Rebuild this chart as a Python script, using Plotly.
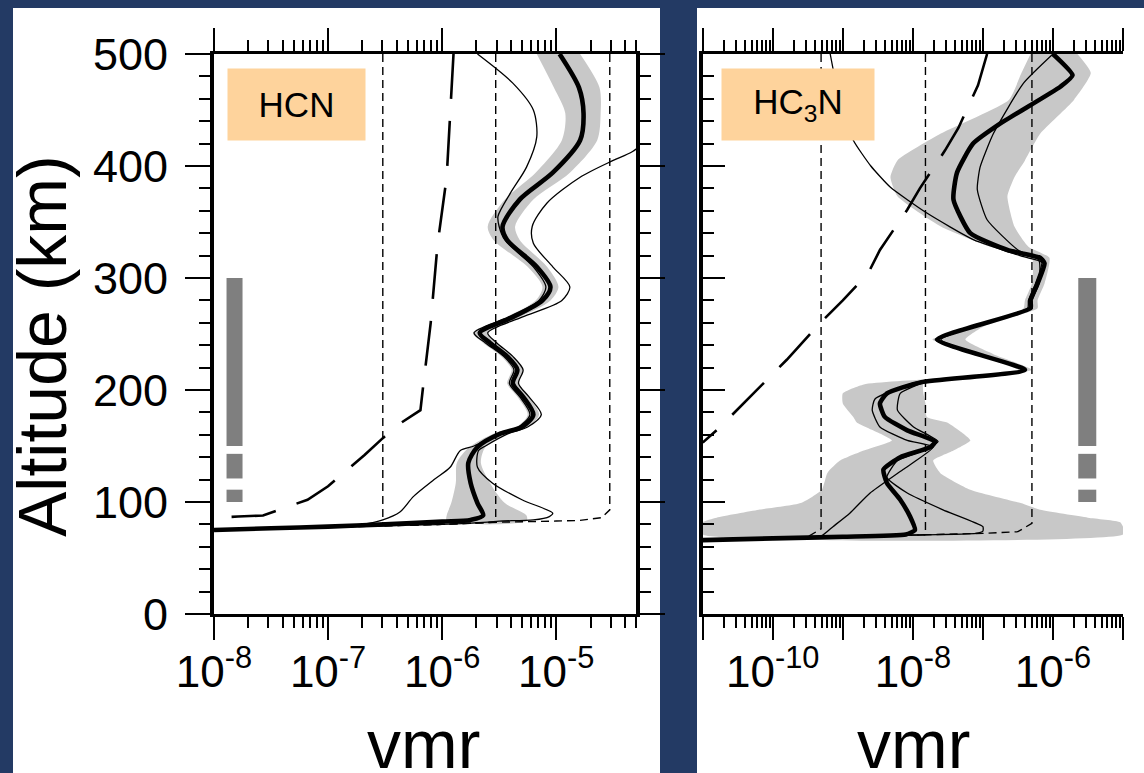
import plotly.graph_objects as go

W, H = 1144, 773
NAVY = "#233a64"
PEACH = "#FED39C"
BAND = "#C8C8C8"
BARC = "#7F7F7F"
FONT = "Liberation Sans"

# ---------------- HCN (left panel), vmr given as log10 exponent ----------------
hcn_ret_alt = [500, 470, 447, 423, 394, 370, 346, 334, 310, 292, 280, 265, 251, 242, 230, 218, 206, 194, 178,
               167, 161, 149, 135, 117, 99, 88, 84, 82.5, 80, 78, 76.5, 75]
hcn_ret_log = [-4.97, -4.80, -4.76, -4.79, -5.03, -5.32, -5.47, -5.43, -5.17, -5.05, -5.12, -5.38, -5.67, -5.58,
               -5.43, -5.34, -5.38, -5.29, -5.20, -5.30, -5.49, -5.69, -5.77, -5.75, -5.69, -5.64, -5.75, -6.0,
               -6.5, -7.0, -7.5, -8.0]

hcn_band_alt = [500, 470, 447, 423, 394, 370, 346, 334, 310, 292, 280, 265, 251, 242, 230, 218, 206, 194, 178,
                167, 161, 149, 135, 117, 99, 88, 83]
hcn_band_lo = [-5.17, -5.02, -4.92, -4.95, -5.18, -5.45, -5.60, -5.55, -5.25, -5.12, -5.18, -5.44, -5.73, -5.64,
               -5.48, -5.39, -5.43, -5.34, -5.25, -5.35, -5.55, -5.76, -5.87, -5.88, -5.92, -5.96, -5.96]
hcn_band_hi = [-4.79, -4.62, -4.61, -4.64, -4.88, -5.20, -5.36, -5.32, -5.08, -4.98, -5.05, -5.32, -5.60, -5.52,
               -5.38, -5.29, -5.33, -5.24, -5.15, -5.25, -5.43, -5.62, -5.66, -5.58, -5.45, -5.26, -5.26]

hcn_thinA_alt = [500, 474, 450, 426, 399, 376, 355, 346, 334, 310, 292, 280, 265, 251, 242, 230, 218, 206, 194,
                 178, 167, 161, 150, 146, 131, 120, 105, 91, 84, 80, 77.5, 75]
hcn_thinA_log = [-5.69, -5.38, -5.20, -5.17, -5.26, -5.40, -5.51, -5.50, -5.45, -5.20, -5.09, -5.15, -5.42, -5.72,
                 -5.62, -5.46, -5.37, -5.41, -5.32, -5.23, -5.33, -5.50, -5.72, -5.84, -5.93, -6.07, -6.25, -6.37,
                 -6.52, -6.7, -7.0, -8.0]

hcn_thinB_alt = [440, 413, 405, 390, 367, 346, 331, 310, 292, 280, 265, 251, 242, 230, 218, 206, 194, 178, 167,
                 161, 150, 146, 131, 117, 102, 90, 87, 84, 83, 82, 80, 79, 77.5, 75]
hcn_thinB_log = [-4.0, -4.33, -4.50, -4.79, -5.08, -5.21, -5.20, -5.03, -4.88, -4.95, -5.30, -5.60, -5.52, -5.38,
                 -5.29, -5.33, -5.24, -5.13, -5.25, -5.42, -5.62, -5.68, -5.69, -5.56, -5.30, -5.03, -5.06, -5.2,
                 -5.5, -5.6, -6.0, -6.5, -7.0, -8.0]

hcn_apr1_alt = [500, 79, 77.5, 75]
hcn_apr1_log = [-6.52, -6.52, -7.0, -8.0]
hcn_apr2_alt = [500, 82, 80, 79, 77.5, 75]
hcn_apr2_log = [-5.53, -5.53, -6.0, -6.5, -7.0, -8.0]
hcn_apr3_alt = [500, 93, 86, 83.5, 83, 82, 80, 79, 77.5, 75]
hcn_apr3_log = [-4.53, -4.53, -4.6, -4.8, -5.0, -5.5, -6.0, -6.5, -7.0, -8.0]

hcn_model_alt = [500, 390, 330, 260, 200, 182, 170, 157, 142, 114, 102, 88, 87, 86, 86]
hcn_model_log = [-5.90, -5.96, -6.04, -6.10, -6.17, -6.19, -6.37, -6.52, -6.68, -7.0, -7.18, -7.57, -7.79, -7.96, -8.0]

hcn_bar_alt = [300, 150, None, 143, 121, None, 111, 100]
hcn_bar_log = -7.82

# ---------------- HC3N (right panel) ----------------
hc3n_ret_alt = [500, 481, 471, 438, 420, 394, 370, 340, 325, 318, 313, 295, 280, 273, 245, 218, 207, 197, 188,
                176, 164, 154, 149, 140, 129, 117, 102, 87, 75, 71, 69, 67.5, 66]
hc3n_ret_log = [-6.0, -5.72, -5.89, -6.75, -7.14, -7.37, -7.42, -7.18, -6.65, -6.18, -6.12, -6.22, -6.32, -6.32,
                -7.65, -6.40, -7.88, -8.37, -8.47, -8.40, -8.08, -7.68, -7.75, -8.18, -8.42, -8.37, -8.18, -8.04,
                -7.97, -8.1, -9.0, -10.0, -11.0]

hc3n_band_alt = [500, 483, 459, 429, 405, 390, 373, 346, 328, 318, 295, 280, 273, 258, 245, 232, 218, 210, 205,
                 197, 188, 176, 171, 162, 155, 146, 137, 126, 111, 99, 93, 86, 82, 78, 71]
hc3n_band_lo = [-6.32, -6.45, -6.63, -7.60, -8.22, -8.32, -8.22, -7.60, -6.90, -6.30, -6.30, -6.40, -6.42, -7.00,
                -7.72, -7.05, -6.50, -7.70, -8.70, -9.0, -9.0, -8.85, -8.8, -8.5, -8.3, -8.7, -9.04, -9.22, -9.3,
                -9.6, -10.2, -10.8, -11.0, -11.0, -11.0]
hc3n_band_hi = [-5.65, -5.46, -5.70, -6.18, -6.40, -6.55, -6.65, -6.55, -6.35, -6.05, -6.12, -6.22, -6.22, -6.95,
                -7.25, -6.85, -6.30, -7.30, -7.85, -7.85, -7.82, -7.80, -7.51, -7.3, -7.18, -7.42, -7.71, -7.61,
                -7.18, -6.46, -6.18, -5.5, -5.04, -5.0, -5.0]

hc3n_thinA_alt = [500, 460, 423, 400, 381, 358, 334, 319, 314, 295, 280, 273, 245, 218, 207, 192, 182, 167, 155,
                  149, 129, 108, 90, 78, 70, 67.5, 66]
hc3n_thinA_log = [-9.18, -9.05, -8.85, -8.6, -8.32, -7.80, -7.13, -6.42, -6.16, -6.25, -6.35, -6.36, -7.60, -6.45,
                  -7.95, -8.54, -8.58, -8.47, -8.08, -7.71, -8.14, -8.61, -8.9, -9.14, -9.3, -10.0, -11.0]

hc3n_thinB_alt = [500, 474, 429, 399, 379, 352, 325, 316, 295, 280, 273, 245, 218, 207, 197, 182, 167, 154, 146,
                  137, 122, 108, 93, 78, 74, 72, 70.5, 69, 67.5, 66]
hc3n_thinB_log = [-6.0, -6.42, -6.85, -7.04, -7.08, -6.94, -6.5, -6.2, -6.20, -6.30, -6.30, -7.68, -6.38, -7.82,
                  -8.18, -8.22, -7.99, -7.64, -7.85, -8.22, -8.37, -8.08, -7.57, -7.0, -7.0, -7.1, -8.0, -9.0,
                  -10.0, -11.0]

hc3n_apr1_alt = [500, 76, 69, 67.5, 66]
hc3n_apr1_log = [-9.31, -9.31, -9.5, -10.0, -11.0]
hc3n_apr2_alt = [500, 70.7, 69, 67.5, 66]
hc3n_apr2_log = [-7.82, -7.82, -9.0, -10.0, -11.0]
hc3n_apr3_alt = [500, 81, 73.5, 72, 70.5, 69, 67.5, 66]
hc3n_apr3_log = [-6.30, -6.30, -6.5, -7.0, -8.0, -9.0, -10.0, -11.0]

hc3n_model_alt = [500, 472, 434, 414, 380, 361, 325, 304, 280, 260, 227, 212, 185, 167, 153]
hc3n_model_log = [-6.94, -7.07, -7.35, -7.54, -7.90, -8.08, -8.47, -8.64, -9.0, -9.32, -9.80, -10.04, -10.47,
                  -10.75, -11.0]

hc3n_bar_alt = [300, 150, None, 143, 121, None, 111, 100]
hc3n_bar_log = -5.51

alt_ticks = [0, 100, 200, 300, 400, 500]
hcn_xticks = [-8, -7, -6, -5]
hcn_xtext = ["10<sup>-8</sup>", "10<sup>-7</sup>", "10<sup>-6</sup>", "10<sup>-5</sup>"]
hc3n_xticks = [-11, -10, -9, -8, -7, -6, -5]
hc3n_xtext = [" ", "10<sup>-10</sup>", " ", "10<sup>-8</sup>", " ", "10<sup>-6</sup>", " "]


def v(logs):
    return [10 ** e for e in logs]


fig = go.Figure()


def add_panel(xa, ya, band_alt, band_lo, band_hi, bar_alt, bar_log, aprs, model, thins, ret, barw, sm):
    fig.add_trace(go.Scatter(x=v(band_lo) + v(band_hi[::-1]), y=band_alt + band_alt[::-1], fill="toself",
                             fillcolor=BAND, line=dict(width=0, shape="spline", smoothing=sm), mode="lines",
                             hoverinfo="skip", xaxis=xa, yaxis=ya))
    fig.add_trace(go.Scatter(x=[10 ** bar_log if a is not None else None for a in bar_alt], y=bar_alt,
                             mode="lines", line=dict(color=BARC, width=barw), xaxis=xa, yaxis=ya))
    for al, lg in aprs:
        fig.add_trace(go.Scatter(x=v(lg), y=al, mode="lines",
                                 line=dict(color="black", width=1.4, dash="8px,5px"), xaxis=xa, yaxis=ya))
    fig.add_trace(go.Scatter(x=v(model[1]), y=model[0], mode="lines",
                             line=dict(color="black", width=2.6, dash="45px,22px"), xaxis=xa, yaxis=ya))
    for al, lg in thins:
        fig.add_trace(go.Scatter(x=v(lg), y=al, mode="lines",
                                 line=dict(color="black", width=1.3, shape="spline", smoothing=sm),
                                 xaxis=xa, yaxis=ya))
    fig.add_trace(go.Scatter(x=v(ret[1]), y=ret[0], mode="lines",
                             line=dict(color="black", width=4.6, shape="spline", smoothing=sm),
                             xaxis=xa, yaxis=ya))


add_panel("x", "y", hcn_band_alt, hcn_band_lo, hcn_band_hi, hcn_bar_alt, hcn_bar_log,
          [(hcn_apr1_alt, hcn_apr1_log), (hcn_apr2_alt, hcn_apr2_log), (hcn_apr3_alt, hcn_apr3_log)],
          (hcn_model_alt, hcn_model_log),
          [(hcn_thinA_alt, hcn_thinA_log), (hcn_thinB_alt, hcn_thinB_log)],
          (hcn_ret_alt, hcn_ret_log), 16, 0.8)
add_panel("x2", "y2", hc3n_band_alt, hc3n_band_lo, hc3n_band_hi, hc3n_bar_alt, hc3n_bar_log,
          [(hc3n_apr1_alt, hc3n_apr1_log), (hc3n_apr2_alt, hc3n_apr2_log), (hc3n_apr3_alt, hc3n_apr3_log)],
          (hc3n_model_alt, hc3n_model_log),
          [(hc3n_thinA_alt, hc3n_thinA_log), (hc3n_thinB_alt, hc3n_thinB_log)],
          (hc3n_ret_alt, hc3n_ret_log), 18, 0.5)

tfont = dict(family=FONT, size=44, color="black")
yfont = dict(family=FONT, size=45, color="black")
ydom = [(H - 614) / H, (H - 54) / H]
dom_l = [214 / W, 636 / W]
dom_r = [702.7 / W, 1123 / W]


def minor_vals(e0, e1):
    return [k * 10 ** e for e in range(e0, e1) for k in range(2, 10)]


def xaxis(dom, rng, tv, tt, anchor, e0, e1):
    return dict(type="log", domain=dom, range=rng, anchor=anchor, showgrid=False, zeroline=False,
                showline=True, linecolor="black", linewidth=2.5, mirror="ticks",
                ticks="outside", ticklen=23, tickwidth=2, tickcolor="black",
                tickmode="array", tickvals=[10 ** t for t in tv], ticktext=tt, tickfont=tfont,
                ticklabelstandoff=-6,
                minor=dict(ticks="outside", ticklen=11, tickwidth=1.6, tickcolor="black",
                           tickmode="array", tickvals=minor_vals(e0, e1), showgrid=False),
                automargin=False)


def yaxis(anchor, ticks, tlen, mlen, labels, line, side="left", overlay=None, mirror=False):
    d = dict(domain=ydom, range=[0, 500], anchor=anchor, side=side, showgrid=False, zeroline=False,
             showline=line, linecolor="black", linewidth=4, mirror=mirror,
             ticks=ticks, ticklen=tlen, tickwidth=2, tickcolor="black",
             tickmode="array", tickvals=alt_ticks, showticklabels=labels, tickfont=yfont,
             ticklabelstandoff=8,
             minor=dict(ticks=ticks, ticklen=mlen, tickwidth=1.6, tickcolor="black", dtick=20, showgrid=False),
             automargin=False)
    if overlay:
        d["overlaying"] = overlay
    return d


def label(text, x, y, size, **kw):
    return dict(text=text, xref="paper", yref="paper", x=x / W, y=(H - y) / H, showarrow=False,
                xanchor="center", yanchor="middle", font=dict(family=FONT, size=size, color="black"), **kw)


fig.update_layout(
    width=W, height=H, margin=dict(l=0, r=0, t=0, b=0),
    paper_bgcolor=NAVY, plot_bgcolor="white", showlegend=False, template="none",
    font=dict(family=FONT, color="black"),
    xaxis=xaxis(dom_l, [-8, -4.3], hcn_xticks, hcn_xtext, "y", -8, -4),
    xaxis2=xaxis(dom_r, [-11, -5], hc3n_xticks, hc3n_xtext, "y2", -11, -5),
    yaxis=yaxis("x", "outside", 25, 11, True, True, mirror="ticks"),
    yaxis3=yaxis("x", "inside", 23, 13, False, False, overlay="y"),
    yaxis2=yaxis("x2", "inside", 22, 11, False, True),
    yaxis4=yaxis("x2", "outside", 21, 12, False, True, side="right", overlay="y2"),
    yaxis5=dict(domain=ydom, range=[0, 500], anchor="free", position=209 / W, overlaying="y",
                showline=True, linecolor="black", linewidth=1, ticks="", showticklabels=False,
                showgrid=False, zeroline=False),
    shapes=[
        dict(type="rect", xref="paper", yref="paper", x0=13 / W, x1=660 / W, y0=0, y1=(H - 8) / H,
             fillcolor="white", line=dict(width=0), layer="below"),
        dict(type="rect", xref="paper", yref="paper", x0=697 / W, x1=1, y0=0, y1=(H - 8) / H,
             fillcolor="white", line=dict(width=0), layer="below"),
    ],
    annotations=[
        label("HCN", 296.5, 104.5, 35, width=137, height=71, bgcolor=PEACH, borderpad=0),
        label("HC<sub>3</sub>N", 798, 104.5, 35, width=152, height=71, bgcolor=PEACH, borderpad=0),
        label("Altitude (km)", 42, 346, 68, textangle=-90),
        label("vmr", 423, 744, 68),
        label("vmr", 913, 744, 68),
    ],
)

fig.write_html("out.html")
